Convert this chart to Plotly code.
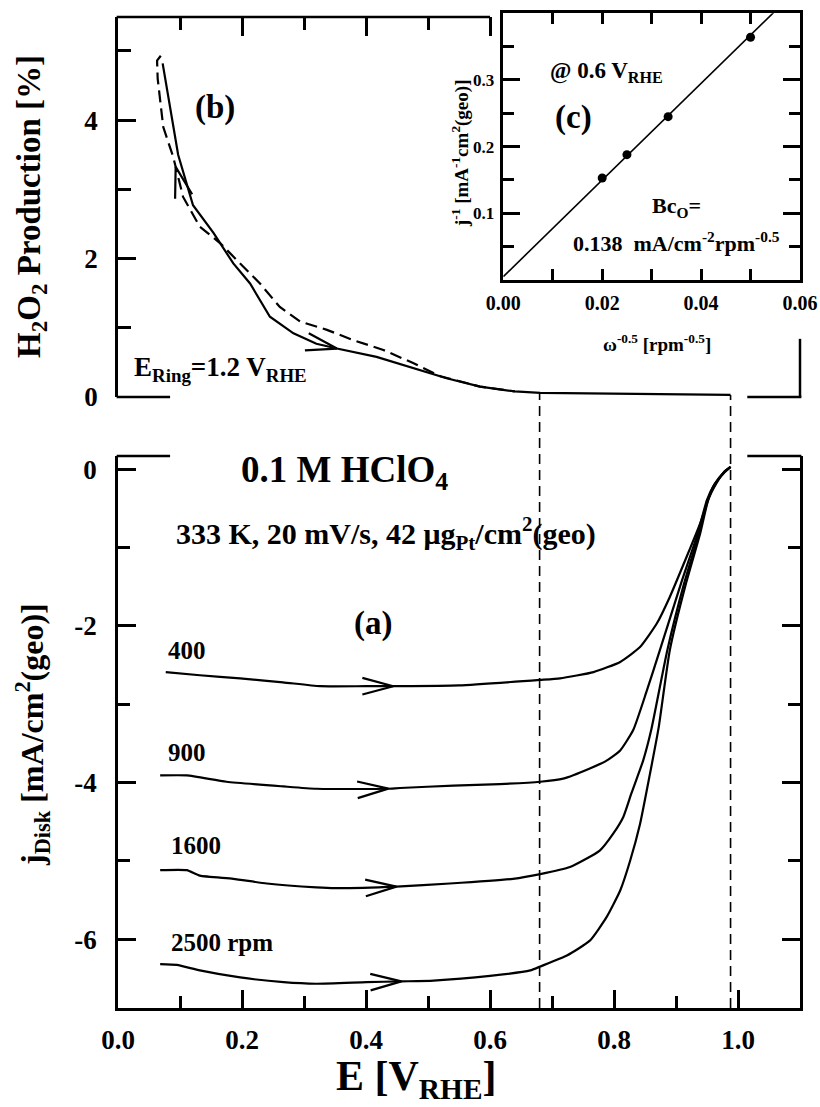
import numpy as np
import plotly.graph_objects as go

# ---------------------------------------------------------------- data
# (a) disk current density vs. potential, anodic sweeps at four rotation rates
E_400 = [0.077, 0.132, 0.197, 0.266, 0.326, 0.40, 0.455, 0.55, 0.681, 0.713,
         0.767, 0.81, 0.842, 0.869, 0.89, 0.917, 0.939, 0.96, 0.977, 0.988]
j_400 = [-2.59, -2.63, -2.67, -2.72, -2.77, -2.77, -2.77, -2.76, -2.69, -2.67,
         -2.59, -2.46, -2.27, -1.97, -1.63, -1.12, -0.69, -0.22, -0.05, 0.03]

E_900 = [0.068, 0.111, 0.175, 0.267, 0.32, 0.433, 0.455, 0.541, 0.616, 0.681,
         0.718, 0.761, 0.788, 0.81, 0.831, 0.852, 0.874, 0.908, 0.935, 0.95,
         0.963, 0.977, 0.988]
j_900 = [-3.91, -3.91, -3.99, -4.05, -4.08, -4.08, -4.07, -4.04, -4.02, -3.99,
         -3.95, -3.82, -3.72, -3.59, -3.33, -2.85, -2.31, -1.46, -0.82, -0.39,
         -0.18, -0.04, 0.03]

E_1600 = [0.068, 0.111, 0.132, 0.186, 0.24, 0.32, 0.35, 0.449, 0.535, 0.637,
          0.681, 0.729, 0.777, 0.799, 0.815, 0.828, 0.847, 0.86, 0.886, 0.913,
          0.937, 0.951, 0.964, 0.977, 0.988]
j_1600 = [-5.12, -5.12, -5.19, -5.23, -5.29, -5.34, -5.35, -5.33, -5.29, -5.23,
          -5.17, -5.08, -4.87, -4.65, -4.44, -4.14, -3.72, -3.33, -2.31, -1.46,
          -0.82, -0.39, -0.18, -0.04, 0.03]

E_2500 = [0.068, 0.095, 0.132, 0.197, 0.267, 0.32, 0.401, 0.457, 0.509, 0.6,
          0.665, 0.681, 0.724, 0.761, 0.788, 0.81, 0.826, 0.842, 0.858, 0.872,
          0.89, 0.916, 0.939, 0.952, 0.965, 0.977, 0.988]
j_2500 = [-6.32, -6.33, -6.40, -6.49, -6.55, -6.57, -6.55, -6.54, -6.53, -6.47,
          -6.40, -6.35, -6.21, -6.02, -5.72, -5.38, -5.0, -4.53, -3.89, -3.3,
          -2.31, -1.46, -0.82, -0.39, -0.18, -0.04, 0.03]

rpm_labels = ["400", "900", "1600", "2500 rpm"]

# (b) ring-detected H2O2 production, anodic (solid) and cathodic (dashed) sweeps
E_ring_solid = [0.072, 0.085, 0.097, 0.121, 0.154, 0.186, 0.213, 0.245, 0.283,
                0.32, 0.353, 0.417, 0.487, 0.53, 0.584, 0.64, 0.681, 0.75, 0.85,
                0.95, 0.988]
h2o2_solid = [4.82, 4.15, 3.50, 2.77, 2.37, 1.93, 1.64, 1.16, 0.92, 0.77, 0.70,
              0.58, 0.39, 0.27, 0.15, 0.08, 0.06, 0.055, 0.05, 0.04, 0.03]

E_ring_dashed = [0.069, 0.063, 0.064, 0.073, 0.089, 0.105, 0.132, 0.165, 0.197,
                 0.229, 0.261, 0.294, 0.337, 0.38, 0.428, 0.476, 0.52, 0.584, 0.64]
h2o2_dashed = [4.93, 4.86, 4.60, 3.90, 3.47, 2.89, 2.46, 2.22, 1.93, 1.64, 1.30,
               1.09, 0.97, 0.82, 0.68, 0.49, 0.30, 0.15, 0.08]

# (c) Koutecky-Levich plot at 0.6 V
rpm = np.array([2500, 1600, 900, 400])
j_inv = [0.153, 0.188, 0.245, 0.364]
Bc0 = 0.138                      # mA cm^-2 rpm^-0.5
E_marks = [0.68, 0.988]          # potentials marked by the dashed guides

# tick values
E_ticks = [0, 0.2, 0.4, 0.6, 0.8, 1.0]
E_minor = [0.1, 0.3, 0.5, 0.7, 0.9]
j_ticks = [0, -2, -4, -6]
j_minor = [-1, -3, -5]
h_ticks = [0, 2, 4]
h_minor = [1, 3, 5]
kl_x_ticks = [0, 0.02, 0.04, 0.06]
kl_x_minor = [0.01, 0.03, 0.05]
kl_y_ticks = [0.1, 0.2, 0.3]
kl_y_minor = [0.05, 0.15, 0.25, 0.35]

# ---------------------------------------------------------------- geometry
W, H = 820, 1107
FONT = "Liberation Serif"
X_DOM = [118 / W, 800 / W]
Y_DOM_DISK = [1 - 1008 / H, 1 - 456 / H]
Y_DOM_RING = [1 - 397 / H, 1 - 17 / H]
X_DOM_IN = [503.3 / W, 800 / W]
Y_DOM_IN = [1 - 280 / H, 1 - 13.3 / H]
E_RANGE = [0, 1.1]
J_RANGE = [-6.88, 0.17]
H_RANGE = [0, 5.49]
IN_X = [0, 0.06]
IN_Y = [0, 0.4]

sx = (X_DOM[1] - X_DOM[0]) * W / (E_RANGE[1] - E_RANGE[0])
sy_disk = (Y_DOM_DISK[1] - Y_DOM_DISK[0]) * H / (J_RANGE[1] - J_RANGE[0])
sy_ring = (Y_DOM_RING[1] - Y_DOM_RING[0]) * H / (H_RANGE[1] - H_RANGE[0])


def point_on(xs, ys, at):
    """Linear interpolation along a polyline (tolerates a non-monotonic start)."""
    for i in range(len(xs) - 1):
        a, b = xs[i], xs[i + 1]
        if a != b and min(a, b) <= at <= max(a, b):
            t = (at - a) / (b - a)
            return ys[i] + t * (ys[i + 1] - ys[i])
    return float(np.interp(at, xs, ys))


def chevron(xs, ys, at, sy, direction=1, length=32, spread=15):
    """Open arrow head sitting on a curve, pointing along the sweep direction."""
    y0 = point_on(xs, ys, at)
    d = 0.01
    ya, yb = point_on(xs, ys, at - d), point_on(xs, ys, at + d)
    tx, ty = 2 * d * sx, (yb - ya) * sy
    n = np.hypot(tx, ty)
    bx, by = -direction * tx / n, -direction * ty / n
    px, py = [], []
    for s in (1, -1):
        a = np.radians(spread * s)
        lx = bx * np.cos(a) - by * np.sin(a)
        ly = bx * np.sin(a) + by * np.cos(a)
        px.append(at + lx * length / sx)
        py.append(y0 + ly * length / sy)
    return [px[0], at, px[1]], [py[0], y0, py[1]]


def labels(vals, fmt):
    # plain hyphen-minus labels
    return [format(v, fmt) for v in vals]


line_k = dict(color="black", width=2.2)
line_smooth = dict(color="black", width=2.2, shape="spline", smoothing=0.5)
fig = go.Figure()

# ---- (a) disk currents
curves = [(E_400, j_400, 0.444), (E_900, j_900, 0.436),
          (E_1600, j_1600, 0.449), (E_2500, j_2500, 0.457)]
for E, j, arrow_at in curves:
    fig.add_trace(go.Scatter(x=E, y=j, mode="lines", line=line_smooth,
                             xaxis="x", yaxis="y", hoverinfo="skip"))
    cx, cy = chevron(E, j, arrow_at, sy_disk)
    fig.add_trace(go.Scatter(x=cx, y=cy, mode="lines", line=line_k,
                             xaxis="x", yaxis="y", hoverinfo="skip"))

# ---- (b) H2O2 yield
fig.add_trace(go.Scatter(x=E_ring_solid, y=h2o2_solid, mode="lines", line=line_k,
                         xaxis="x2", yaxis="y2", hoverinfo="skip"))
fig.add_trace(go.Scatter(x=E_ring_dashed, y=h2o2_dashed, mode="lines",
                         line=dict(color="black", width=2.2, dash="12px,6px"),
                         xaxis="x2", yaxis="y2", hoverinfo="skip"))
for xs, ys, at, direction in [(E_ring_solid, h2o2_solid, 0.353, 1),
                              (E_ring_dashed, h2o2_dashed, 0.093, -1)]:
    cx, cy = chevron(xs, ys, at, sy_ring, direction=direction, spread=16)
    fig.add_trace(go.Scatter(x=cx, y=cy, mode="lines", line=line_k,
                             xaxis="x2", yaxis="y2", hoverinfo="skip"))

# ---- (c) Koutecky-Levich inset
w_inv = rpm ** -0.5
intercept = float(np.mean(np.array(j_inv) - w_inv / Bc0))
fit_x = np.array(IN_X)
fig.add_trace(go.Scatter(x=fit_x, y=intercept + fit_x / Bc0, mode="lines",
                         line=dict(color="black", width=1.6),
                         xaxis="x3", yaxis="y3", hoverinfo="skip"))
fig.add_trace(go.Scatter(x=w_inv, y=j_inv, mode="markers",
                         marker=dict(color="black", size=9),
                         xaxis="x3", yaxis="y3", hoverinfo="skip"))

# ---------------------------------------------------------------- axes
tick_font = dict(family=FONT, size=27, color="black", weight="bold")
in_font = dict(family=FONT, size=20, color="black", weight="bold")
common = dict(ticks="inside", tickcolor="black", tickwidth=2.5, automargin=False,
              linecolor="black", linewidth=2.5, showgrid=False, zeroline=False)


def minor(vals, length):
    return dict(tickvals=vals, ticks="inside", ticklen=length,
                tickcolor="black", tickwidth=2.5)


fig.update_layout(
    width=W, height=H, autosize=False,
    margin=dict(l=0, r=0, t=0, b=0, pad=0, autoexpand=False),
    paper_bgcolor="white", plot_bgcolor="white", showlegend=False,
    font=dict(family=FONT, color="black", weight="bold"),
    xaxis=dict(domain=X_DOM, range=E_RANGE, anchor="y", showline=True,
               tickvals=E_ticks, ticktext=labels(E_ticks, ".1f"),
               ticklen=18, tickfont=tick_font, ticklabelstandoff=6,
               minor=minor(E_minor, 12), **common),
    yaxis=dict(domain=Y_DOM_DISK, range=J_RANGE, anchor="x", showline=True,
               mirror="ticks", tickvals=j_ticks, ticktext=labels(j_ticks, "g"),
               ticklen=18, tickfont=tick_font, ticklabelstandoff=13,
               minor=minor(j_minor, 12), **common),
    xaxis2=dict(domain=X_DOM, range=E_RANGE, anchor="y2", side="top",
                showline=False, showticklabels=False,
                tickvals=[0.2, 0.4, 0.6], ticklen=19,
                minor=minor([0.1, 0.3, 0.5], 13), **common),
    yaxis2=dict(domain=Y_DOM_RING, range=H_RANGE, anchor="x2", showline=True,
                tickvals=h_ticks, ticktext=labels(h_ticks, "g"), ticklen=18,
                tickfont=tick_font, ticklabelstandoff=12,
                minor=minor(h_minor, 13), **common),
    xaxis3=dict(domain=X_DOM_IN, range=IN_X, anchor="y3", showline=True,
                mirror="ticks", tickvals=kl_x_ticks,
                ticktext=labels(kl_x_ticks, ".2f"),
                ticklen=11, tickfont=in_font, ticklabelstandoff=3,
                minor=minor(kl_x_minor, 11), **common),
    yaxis3=dict(domain=Y_DOM_IN, range=IN_Y, anchor="x3", showline=True,
                mirror="ticks", tickvals=kl_y_ticks,
                ticktext=labels(kl_y_ticks, ".1f"), ticklen=17,
                tickfont=dict(family=FONT, size=17, color="black", weight="bold"),
                ticklabelstandoff=3, minor=minor(kl_y_minor, 11), **common),
)

# ---------------------------------------------------------------- frame pieces
frame = dict(color="black", width=2.5)
stub_l = 0.084 / E_RANGE[1]
stub_r = 1.015 / E_RANGE[1]
shapes = [
    # top edge of (b), stopping where the inset begins
    dict(type="line", xref="x2 domain", yref="y2 domain", x0=-0.002,
         x1=0.6 / E_RANGE[1], y0=1, y1=1, line=frame),
    # broken bottom edge of (b) and its short right edge
    dict(type="line", xref="x2 domain", yref="y2 domain", x0=-0.002, x1=stub_l,
         y0=0, y1=0, line=frame),
    dict(type="line", xref="x2 domain", yref="y2 domain", x0=stub_r, x1=1.002,
         y0=0, y1=0, line=frame),
    dict(type="line", xref="x2 domain", yref="y2 domain", x0=1, x1=1,
         y0=0, y1=0.84 / H_RANGE[1], line=frame),
    # broken top edge of (a)
    dict(type="line", xref="x domain", yref="y domain", x0=-0.002, x1=stub_l,
         y0=1, y1=1, line=frame),
    dict(type="line", xref="x domain", yref="y domain", x0=stub_r, x1=1.002,
         y0=1, y1=1, line=frame),
]
# dashed guides from the E axis of (a) up to the H2O2 curve of (b)
for e in E_marks:
    v = point_on(E_ring_solid, h2o2_solid, e)
    top = Y_DOM_RING[0] + v / H_RANGE[1] * (Y_DOM_RING[1] - Y_DOM_RING[0])
    shapes.append(dict(type="line", xref="x", yref="paper", x0=e, x1=e,
                       y0=Y_DOM_DISK[0], y1=top,
                       line=dict(color="black", width=1.6, dash="10px,6px")))
fig.update_layout(shapes=shapes)

# ---------------------------------------------------------------- text
def txt(x, y, text, size, xref="paper", yref="paper", angle=0,
        xanchor="center", yanchor="middle"):
    fig.add_annotation(x=x, y=y, xref=xref, yref=yref, text=text,
                       showarrow=False, textangle=angle,
                       xanchor=xanchor, yanchor=yanchor,
                       font=dict(family=FONT, size=size, color="black",
                                 weight="bold"))

# axis titles
txt(416 / W, 1 - 1079 / H, "E [V<sub>RHE</sub>]", 42)
txt(31 / W, 1 - 207 / H, "H<sub>2</sub>O<sub>2</sub> Production [%]", 33, angle=-90)
txt(33 / W, 1 - 735 / H, "j<sub>Disk</sub> [mA/cm<sup>2</sup>(geo)]", 32, angle=-90)
txt(657 / W, 1 - 343 / H, "ω<sup>-0.5</sup> [rpm<sup>-0.5</sup>]", 19)
txt(460 / W, 1 - 154 / H,
    "j<sup>-1</sup> [mA<sup>-1</sup>cm<sup>2</sup>(geo)]", 19, angle=-90)

# panel (a)
txt(0.365, -0.04, "0.1 M HClO<sub>4</sub>", 37, xref="x", yref="y")
txt(0.432, -0.815, "333 K, 20 mV/s, 42 μg<sub>Pt</sub>/cm<sup>2</sup>(geo)", 30,
    xref="x", yref="y")
txt(0.411, -1.97, "(a)", 33, xref="x", yref="y")
for lab, (lx, ly) in zip(rpm_labels, [(0.077, -2.31), (0.077, -3.62),
                                      (0.083, -4.80), (0.083, -6.04)]):
    txt(lx, ly, lab, 25, xref="x", yref="y", xanchor="left")

# panel (b)
txt(0.156, 4.18, "(b)", 33, xref="x2", yref="y2")
txt(0.165, 0.40, "E<sub>Ring</sub>=1.2 V<sub>RHE</sub>", 27, xref="x2", yref="y2")

# panel (c)
txt(0.0141, 0.243, "(c)", 33, xref="x3", yref="y3")
txt(0.0209, 0.312, "@ 0.6 V<sub>RHE</sub>", 23, xref="x3", yref="y3")
txt(0.0351, 0.109, "Bc<sub>O</sub>=", 22, xref="x3", yref="y3")
txt(0.0351, 0.057, "0.138\u00a0 mA/cm<sup>-2</sup>rpm<sup>-0.5</sup>", 22,
    xref="x3", yref="y3")

fig.write_html("out.html")
